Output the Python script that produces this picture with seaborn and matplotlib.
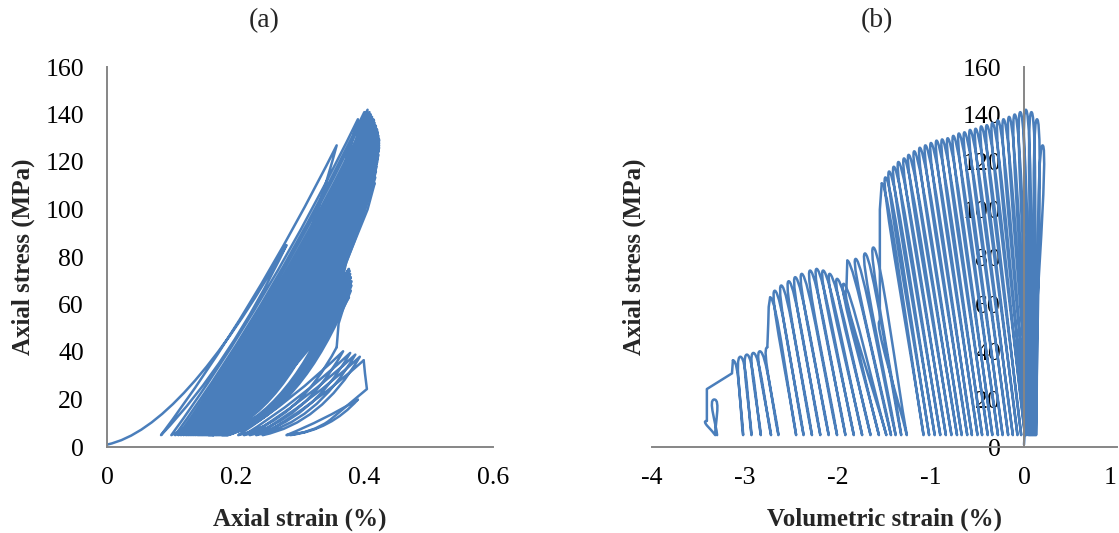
import matplotlib
matplotlib.use("Agg")
import matplotlib.pyplot as plt
import seaborn as sns
from matplotlib.path import Path
from matplotlib.patches import PathPatch
from matplotlib.ticker import MultipleLocator

# ---------------- data ----------------
start_stress = 1.0          # MPa at the start of the test
axial_start = 0.0           # % axial strain at start
vol_start = 0.0             # % volumetric strain at start
valley_stress = 5.0         # MPa, lower stress of every cycle

# peak stress of every load cycle, in test order (MPa)
peak_stress = [85, 127, 138, 141, 142, 141, 140, 139, 138, 137.5, 136.5, 135.5, 135, 134,
               133.5, 132.5, 132, 131, 130, 129.5, 129, 128, 127, 126, 124.5, 123, 121.5,
               120, 118, 116, 113.5, 111,
               84, 81.5, 79.2, 78.5,
               68.7, 70.8, 72.9, 74.3, 75.0, 74.3, 72.9, 71.5, 69.8, 68.0, 65.8, 63.0,
               40.3, 39.6, 38.9, 38.0, 36.5,
               20.0]

# axial strain at each peak (%)
axial_peak = [0.279, 0.357, 0.390, 0.400, 0.405, 0.408, 0.410, 0.412, 0.414, 0.415, 0.416,
              0.417, 0.418, 0.419, 0.420, 0.421, 0.421, 0.422, 0.422, 0.423, 0.423, 0.423,
              0.423, 0.423, 0.422, 0.422, 0.421, 0.420, 0.419, 0.418, 0.417, 0.416,
              0.362, 0.365, 0.367, 0.369,
              0.370, 0.372, 0.374, 0.375, 0.376, 0.377, 0.378, 0.379, 0.380, 0.380, 0.379, 0.376,
              0.367, 0.378, 0.386, 0.393, 0.399,
              0.390]

# volumetric strain at each peak (%)
vol_peak = [0.12, 0.20, 0.14, 0.08, 0.02, -0.04, -0.10, -0.16, -0.22, -0.28, -0.34, -0.40,
            -0.46, -0.52, -0.58, -0.64, -0.70, -0.76, -0.82, -0.88, -0.94, -1.00, -1.06,
            -1.12, -1.18, -1.24, -1.29, -1.35, -1.40, -1.45, -1.49, -1.53,
            -1.62, -1.71, -1.81, -1.90,
            -1.94, -2.01, -2.09, -2.16, -2.23, -2.30, -2.39, -2.46, -2.53, -2.61, -2.68, -2.73,
            -2.84, -2.91, -2.98, -3.05, -3.13,
            -3.33]

# axial strain at the valley reached after each peak (%)
axial_valley = [0.084, 0.100, 0.106, 0.111, 0.115, 0.119, 0.123, 0.126, 0.129, 0.132, 0.135,
                0.138, 0.141, 0.143, 0.145, 0.147, 0.149, 0.151, 0.153, 0.155, 0.157, 0.158,
                0.159, 0.160, 0.161, 0.162, 0.163, 0.164, 0.165, 0.165, 0.166,
                0.168,
                0.170, 0.172, 0.174,
                0.176,
                0.178, 0.179, 0.180, 0.181, 0.182, 0.183, 0.184, 0.185, 0.186, 0.187, 0.188,
                0.204,
                0.213, 0.222, 0.232, 0.242,
                0.279,
                0.285]

# volumetric strain at the valley reached after each peak (%)
vol_valley = [0.06, 0.13, 0.12, 0.11, 0.10, 0.09, 0.08, 0.07, 0.05, 0.03, 0.01, -0.03,
              -0.07, -0.12, -0.17, -0.23, -0.28, -0.34, -0.39, -0.45, -0.50, -0.56, -0.61,
              -0.67, -0.72, -0.78, -0.84, -0.90, -0.96, -1.02, -1.08,
              -1.26,
              -1.32, -1.38, -1.43,
              -1.48,
              -1.56, -1.65, -1.74, -1.83, -1.92, -2.01, -2.10, -2.19, -2.28, -2.37, -2.45,
              -2.64,
              -2.72, -2.83, -2.93, -3.02,
              -3.32,
              -3.30]

# stress drops that follow some peaks (cycle index, stress, strains)
drop_after = [31, 35, 47, 52]
drop_stress = [[100, 78, 53], [66], [59, 52, 42], [31, 24.4, 11]]
axial_drop = [[0.405, 0.372, 0.352], [0.360], [0.368, 0.360, 0.357], [0.401, 0.404, 0.345]]
vol_drop = [[-1.55, -1.55, -1.55], [-1.91], [-2.745, -2.75, -2.76], [-3.14, -3.41, -3.41]]

stress_ticks = [0, 20, 40, 60, 80, 100, 120, 140, 160]
stress_labels = ["0", "20", "40", "60", "80", "100", "120", "140", "160"]
axial_ticks = [0, 0.2, 0.4, 0.6]
axial_labels = ["0", "0.2", "0.4", "0.6"]
vol_ticks = [-4, -3, -2, -1, 0, 1]
vol_labels = ["-4", "-3", "-2", "-1", "0", "1"]

# ---------------- style ----------------
LINE = "#4A7EBB"
AXC = "#868686"
LW = 1.8

sns.set_theme(style="white")
plt.rcParams["font.family"] = ["Liberation Serif", "DejaVu Serif"]
plt.rcParams["axes.unicode_minus"] = False


def add_segment(verts, codes, p0, p1, kind, loading, first=False):
    (x0, y0), (x1, y1) = p0, p1
    if kind == "axial":
        if loading and first:          # initial toe of the first loading
            c = (x0 + 0.42 * (x1 - x0), y0 + 0.08 * (y1 - y0))
        elif loading:
            c = (x0 + 0.52 * (x1 - x0), y0 + 0.42 * (y1 - y0))
        elif first:                    # first (pre-peak) unloading
            c = (x1 + 0.55 * (x0 - x1), y1 + 0.38 * (y0 - y1))
        else:
            c = (x1 + 0.60 * (x0 - x1), y1 + 0.15 * (y0 - y1))
        verts += [c, p1]
        codes += [Path.CURVE3, Path.CURVE3]
    else:
        w = 0.07
        if loading:
            c1 = (x0 + 0.3 * (x1 - x0), y0 + 0.3 * (y1 - y0))
            c2 = (x1 + w, y1)
        else:
            c1 = (x0 - w, y0)
            c2 = (x1 + 0.3 * (x0 - x1), y1 + 0.3 * (y0 - y1))
        verts += [c1, c2, p1]
        codes += [Path.CURVE4] * 3


def draw_test(ax, start_x, peaks_x, valleys_x, drops_x, kind):
    drops = {c: (xs, ys) for c, xs, ys in zip(drop_after, drops_x, drop_stress)}
    cur = (start_x, start_stress)
    verts, codes = [cur], [Path.MOVETO]
    for i, (px, py) in enumerate(zip(peaks_x, peak_stress)):
        add_segment(verts, codes, cur, (px, py), kind, True, first=(i == 0))
        cur = (px, py)
        if i in drops:
            xs, ys = drops[i]
            sns.lineplot(x=[px] + list(xs), y=[py] + list(ys), sort=False, estimator=None,
                         color=LINE, lw=LW, ax=ax, legend=False)
            cur = (xs[-1], ys[-1])
            verts.append(cur)
            codes.append(Path.MOVETO)
        v = (valleys_x[i], valley_stress)
        add_segment(verts, codes, cur, v, kind, False, first=(i == 0))
        cur = v
    ax.add_patch(PathPatch(Path(verts, codes), facecolor="none", edgecolor=LINE, lw=LW,
                           joinstyle="round", capstyle="round", zorder=1))


def style_axes(ax):
    for s in ["top", "right"]:
        ax.spines[s].set_visible(False)
    for s in ["left", "bottom"]:
        ax.spines[s].set_color(AXC)
        ax.spines[s].set_linewidth(1.4)
    ax.set_ylim(0, 160)
    ax.set_yticks(stress_ticks)
    ax.set_yticklabels(stress_labels)
    ax.yaxis.set_minor_locator(MultipleLocator(4))
    ax.tick_params(which="major", direction="out", length=4.7, width=1.3, color=AXC,
                   labelsize=18.5, labelcolor="black")
    ax.tick_params(which="minor", direction="in", length=4.5, width=1.1, color=AXC)
    ax.tick_params(axis="x", which="major", pad=10)
    ax.tick_params(axis="y", which="major", pad=12)
    ax.set_facecolor("white")


fig = plt.figure(figsize=(11.19, 5.33), dpi=100)
fig.patch.set_facecolor("white")
H = 380 / 533
B = 86 / 533
ax_a = fig.add_axes([107 / 1119, B, 386 / 1119, H])
ax_b = fig.add_axes([652 / 1119, B, 465 / 1119, H])

# (a) axial strain
draw_test(ax_a, axial_start, axial_peak, axial_valley, axial_drop, "axial")
ax_a.set_xlim(0, 0.6)
ax_a.set_xticks(axial_ticks)
ax_a.set_xticklabels(axial_labels)
ax_a.xaxis.set_minor_locator(MultipleLocator(0.04))
style_axes(ax_a)
ax_a.set_xlabel("Axial strain (%)", fontsize=18, fontweight="bold")
ax_a.set_ylabel("Axial stress (MPa)", fontsize=18, fontweight="bold")
ax_a.xaxis.set_label_coords(0.5, -0.19)
ax_a.xaxis.label.set_va("center")
ax_a.yaxis.set_label_coords(-0.217, 0.5)
ax_a.yaxis.label.set_va("center")

# (b) volumetric strain
draw_test(ax_b, vol_start, vol_peak, vol_valley, vol_drop, "vol")
ax_b.set_xlim(-4, 1)
ax_b.set_xticks(vol_ticks)
ax_b.set_xticklabels(vol_labels)
ax_b.xaxis.set_minor_locator(MultipleLocator(0.2))
style_axes(ax_b)
ax_b.get_xticklabels()[-1].set_horizontalalignment("right")
ax_b.spines["left"].set_position(("data", 0))
ax_b.set_xlabel("Volumetric strain (%)", fontsize=18, fontweight="bold")
ax_b.set_ylabel("Axial stress (MPa)", fontsize=18, fontweight="bold")
ax_b.xaxis.set_label_coords(0.5, -0.19)
ax_b.xaxis.label.set_va("center")
ax_b.yaxis.set_label_coords(-0.039, 0.5)
ax_b.yaxis.label.set_va("center")

fig.text(264 / 1119, 1 - 21 / 533, "(a)", ha="center", va="center", fontsize=20)
fig.text(877 / 1119, 1 - 21 / 533, "(b)", ha="center", va="center", fontsize=20)

fig.savefig("out.png", dpi=100, facecolor="white")
